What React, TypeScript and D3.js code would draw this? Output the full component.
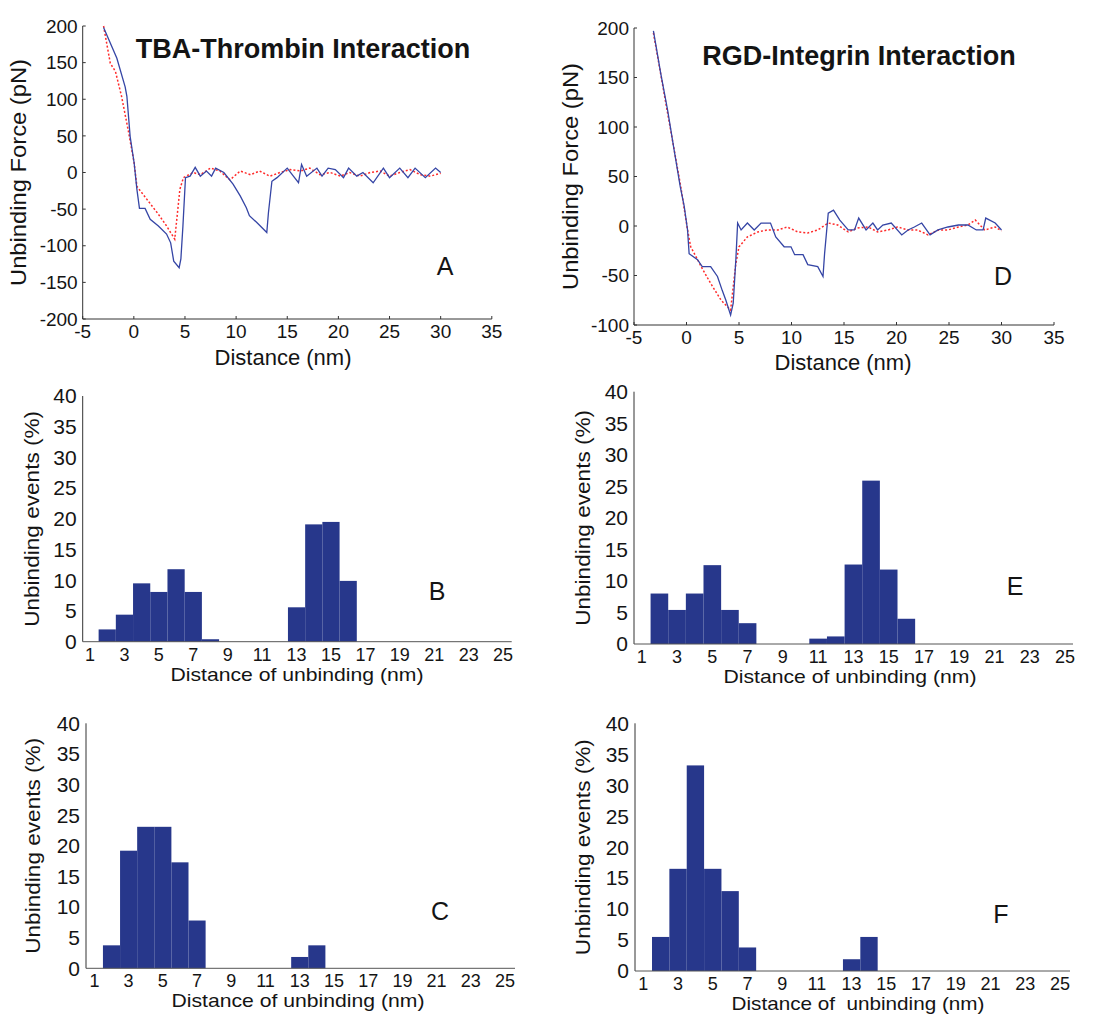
import React from 'react';
import * as d3 from 'd3';

// force-distance curves, [distance nm, force pN]
const tbaUnbinding = [
  [-2.96, 198], [-1.66, 156], [-0.85, 117], [-0.68, 104], [-0.36, 49], [0.03, 13], [0.3, -23], [0.55, -49],
  [1.1, -49], [1.6, -64], [2.4, -73], [3.2, -84], [3.6, -96], [3.9, -121], [4.43, -130], [4.6, -118],
  [4.8, -73], [5.05, -7], [5.5, -5], [6.0, 7], [6.5, -5], [7.1, 2], [7.6, -5], [8.0, 6], [8.8, 0],
  [9.7, -16], [10.4, -32], [11.0, -48], [11.3, -59], [12.0, -68], [13.0, -82], [13.16, -55], [13.5, -12],
  [14.0, -7], [15.0, 6], [15.6, -5], [16.1, -14], [16.4, 11], [16.9, -5], [17.9, 6], [18.4, -5],
  [19.0, 6], [19.7, 4], [20.5, -7], [21.0, 6], [21.8, -5], [22.4, 0], [23.4, -14], [24.4, 6],
  [25.0, -7], [26.0, 6], [26.8, -7], [27.5, 6], [28.5, -7], [29.5, 6], [30.0, 0],
];
const tbaControl = [
  [-2.96, 200], [-2.3, 149], [-1.8, 138], [-1.2, 104], [-0.5, 54], [0.03, 13], [0.3, -19], [1.3, -37],
  [2.4, -57], [3.2, -73], [4.0, -91], [4.2, -64], [4.5, -23], [4.85, -7], [5.8, 0], [6.5, -3], [7.5, 6],
  [8.4, 2], [9.4, -10], [10.4, 2], [11.4, -3], [12.3, 2], [13.3, -5], [14.3, 0], [15.3, 4], [16.3, 2],
  [17.2, 6], [18.2, -3], [19.2, 0], [20.2, -5], [21.1, 0], [22.1, -5], [23.1, 0], [24.1, 2], [25.0, -5],
  [26.0, 0], [27.0, 4], [28.0, -3], [29.0, -5], [30.0, -1],
];
const rgdUnbinding = [
  [-3.15, 197], [-2.45, 154], [-1.8, 117], [-1.18, 77], [-0.6, 40], [-0.22, 20], [0.1, -4], [0.25, -28],
  [1.05, -34], [1.5, -41], [2.3, -41], [2.95, -51], [3.4, -65], [3.75, -75], [4.2, -90], [4.45, -78],
  [4.7, -34], [4.87, 3], [5.2, -4], [5.8, 3], [6.45, -4], [7.1, 3], [8.0, 3], [8.5, -11], [9.3, -21],
  [9.95, -21], [10.3, -29], [11.1, -29], [11.55, -39], [12.5, -41], [13.0, -51], [13.15, -28], [13.5, 13],
  [14.0, 16], [14.6, 6], [15.4, -4], [16.0, -4], [16.4, 8], [17.1, -4], [17.75, 3], [18.2, -4], [18.7, 1],
  [19.5, 3], [20.5, -9], [21.1, -4], [21.7, -1], [22.4, 3], [23.2, -9], [23.95, -4], [24.9, -1],
  [25.9, 1], [26.8, 1], [27.6, -4], [28.25, -4], [28.5, 8], [29.4, 3], [30.0, -4],
];
const rgdControl = [
  [-3.15, 195], [-1.8, 114], [-0.55, 40], [0.1, -4], [0.4, -21], [1.4, -41], [2.3, -58], [3.3, -75],
  [4.2, -85], [4.7, -38], [5.0, -21], [5.8, -11], [6.8, -6], [7.7, -4], [8.7, -4], [9.6, -1], [10.6, -6],
  [11.55, -7], [12.5, -4], [13.5, 3], [14.4, 1], [15.4, -6], [16.3, -2], [17.3, -1], [18.2, -6],
  [19.2, -4], [20.1, -1], [21.1, -4], [22.0, -4], [23.0, -9], [24.0, -4], [24.9, -4], [25.9, -1],
  [26.8, 1], [27.5, 6], [28.4, -4], [29.4, -1], [30.0, -5],
];

const forceXTicks = [-5, 0, 5, 10, 15, 20, 25, 30, 35];
const tbaForceTicks = [-200, -150, -100, -50, 0, 50, 100, 150, 200];
const rgdForceTicks = [-100, -50, 0, 50, 100, 150, 200];

// histograms: bins 1 nm wide centred on 2..16 nm, % of events
const binCenters = [2, 3, 4, 5, 6, 7, 8, 9, 10, 11, 12, 13, 14, 15, 16];
const histB = [2, 4.4, 9.5, 8.1, 11.8, 8.1, 0.4, 0, 0, 0, 0, 5.6, 19.1, 19.5, 9.9];
const histE = [8.0, 5.4, 8.0, 12.5, 5.4, 3.3, 0, 0, 0, 0.85, 1.2, 12.6, 25.9, 11.8, 4.0];
const histC = [3.75, 19.2, 23.1, 23.1, 17.3, 7.8, 0, 0, 0, 0, 0, 1.85, 3.75, 0, 0];
const histF = [5.5, 16.5, 33.2, 16.5, 12.9, 3.8, 0, 0, 0, 0, 0, 1.9, 5.5, 0, 0];
const histXTicks = [1, 3, 5, 7, 9, 11, 13, 15, 17, 19, 21, 23, 25];
const histYTicks = [0, 5, 10, 15, 20, 25, 30, 35, 40];

const FONT = 'Arial, "Liberation Sans", sans-serif';
const INK = '#141414';
const BLUE = '#3545a5';
const RED = '#ff2a2a';
const BAR = '#27378b';

function ForcePanel({ x0, x1, y0, y1, yDomain, yTicks, blue, red, title, titleX, titleY, letter, letterX, letterY, yLabelX, xLabelX, xLabelY }) {
  const x = d3.scaleLinear().domain([-5, 35]).range([x0, x1]);
  const y = d3.scaleLinear().domain(yDomain).range([y1, y0]);
  const line = d3.line().x(d => x(d[0])).y(d => y(d[1]));
  return (
    <g fontFamily={FONT} fill={INK}>
      <line x1={x0} x2={x0} y1={y0} y2={y1} stroke="#333" />
      <line x1={x0} x2={x1} y1={y1} y2={y1} stroke="#333" />
      {yTicks.map(t => (
        <g key={'y' + t}>
          <line x1={x0} x2={x0 + 3} y1={y(t)} y2={y(t)} stroke="#333" />
          <text x={x0 - 5} y={y(t)} dy="0.35em" textAnchor="end" fontSize={19}>{t}</text>
        </g>
      ))}
      {forceXTicks.map(t => (
        <g key={'x' + t}>
          <line x1={x(t)} x2={x(t)} y1={y1} y2={y1 - 3} stroke="#333" />
          <text x={x(t)} y={y1 + 19} textAnchor="middle" fontSize={19}>{t}</text>
        </g>
      ))}
      <path d={line(red)} fill="none" stroke={RED} strokeWidth={1.5} strokeDasharray="2,2" />
      <path d={line(blue)} fill="none" stroke={BLUE} strokeWidth={1.3} />
      <text x={titleX} y={titleY} textAnchor="middle" fontSize={27} fontWeight="bold">{title}</text>
      <text x={letterX} y={letterY} textAnchor="middle" fontSize={25}>{letter}</text>
      <text transform={`translate(${yLabelX},${(y0 + y1) / 2}) rotate(-90)`} textAnchor="middle" dy="0.35em"
        fontSize={22} textLength={227} lengthAdjust="spacingAndGlyphs">Unbinding Force (pN)</text>
      <text x={xLabelX} y={xLabelY} textAnchor="middle" fontSize={22}>Distance (nm)</text>
    </g>
  );
}

function HistPanel({ x0, x1, y0, y1, xDomain, values, letter, letterX, letterY, yLabelX, xLabelX, xLabel }) {
  const x = d3.scaleLinear().domain(xDomain).range([x0, x1]);
  const y = d3.scaleLinear().domain([0, 40]).range([y1, y0]);
  return (
    <g fontFamily={FONT} fill={INK}>
      {values.map((v, i) => v > 0 && (
        <rect key={i} x={x(binCenters[i] - 0.5)} width={x(binCenters[i] + 0.5) - x(binCenters[i] - 0.5)}
          y={y(v)} height={y1 - y(v)} fill={BAR} />
      ))}
      <line x1={x0} x2={x0} y1={y0} y2={y1} stroke="#333" />
      <line x1={x0} x2={x1} y1={y1} y2={y1} stroke="#555" />
      {histYTicks.map(t => (
        <text key={'y' + t} x={x0 - 6} y={y(t)} dy="0.35em" textAnchor="end" fontSize={21}>{t}</text>
      ))}
      {histXTicks.map(t => (
        <text key={'x' + t} x={x(t)} y={y1 + 19} textAnchor="middle" fontSize={18}>{t}</text>
      ))}
      <text x={letterX} y={letterY} textAnchor="middle" fontSize={25}>{letter}</text>
      <text transform={`translate(${yLabelX},${(y0 + y1) / 2}) rotate(-90)`} textAnchor="middle" dy="0.35em"
        fontSize={21} textLength={216} lengthAdjust="spacingAndGlyphs">Unbinding events (%)</text>
      <text x={xLabelX} y={y1 + 39} textAnchor="middle" fontSize={19} textLength={253}
        lengthAdjust="spacingAndGlyphs" style={{ whiteSpace: 'pre' }}>{xLabel}</text>
    </g>
  );
}

export default function App() {
  return (
    <svg width={1107} height={1015} style={{ position: 'absolute', left: 0, top: 0, background: '#fff' }}>
      <rect width={1107} height={1015} fill="#fff" />
      <ForcePanel x0={82.7} x1={491.8} y0={26} y1={319} yDomain={[-200, 200]} yTicks={tbaForceTicks}
        blue={tbaUnbinding} red={tbaControl} title="TBA-Thrombin Interaction" titleX={303} titleY={58}
        letter="A" letterX={445} letterY={275} yLabelX={18} xLabelX={283} xLabelY={365} />
      <ForcePanel x0={634} x1={1054} y0={28} y1={325} yDomain={[-100, 200]} yTicks={rgdForceTicks}
        blue={rgdUnbinding} red={rgdControl} title="RGD-Integrin Interaction" titleX={859} titleY={65}
        letter="D" letterX={1003} letterY={285} yLabelX={570} xLabelX={843} xLabelY={370} />
      <HistPanel x0={82.7} x1={511.7} y0={396} y1={641.7} xDomain={[0.575, 25.5]} values={histB}
        letter="B" letterX={437} letterY={600} yLabelX={32} xLabelX={297} xLabel="Distance of unbinding (nm)" />
      <HistPanel x0={634} x1={1073} y0={391.7} y1={644} xDomain={[0.56, 25.45]} values={histE}
        letter="E" letterX={1015} letterY={595} yLabelX={583} xLabelX={850} xLabel="Distance of unbinding (nm)" />
      <HistPanel x0={86} x1={515} y0={723.3} y1={968.3} xDomain={[0.51, 25.58]} values={histC}
        letter="C" letterX={440} letterY={920} yLabelX={33} xLabelX={298} xLabel="Distance of unbinding (nm)" />
      <HistPanel x0={635} x1={1070} y0={723.3} y1={971} xDomain={[0.52, 25.58]} values={histF}
        letter="F" letterX={1001} letterY={923} yLabelX={583} xLabelX={858} xLabel="Distance of  unbinding (nm)" />
    </svg>
  );
}
